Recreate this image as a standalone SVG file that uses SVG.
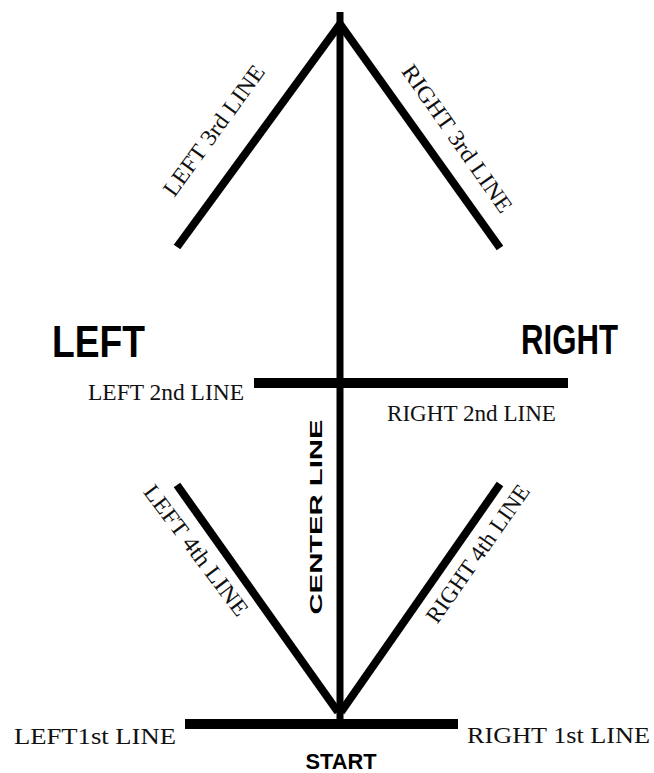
<svg xmlns="http://www.w3.org/2000/svg" width="654" height="773" viewBox="0 0 654 773">
<style>
.ln{stroke:#000;stroke-linecap:butt;fill:none}
.s{font-family:"Liberation Serif","Times New Roman",serif;font-size:23px;fill:#111}
.b{font-family:"Liberation Sans",Arial,sans-serif;font-weight:bold;fill:#000}
</style>
<rect width="654" height="773" fill="#fff"/>
<g id="connectors">
<line class="ln" x1="340" y1="12" x2="340" y2="722" stroke-width="7"/>
<line class="ln" x1="340" y1="24" x2="177" y2="247" stroke-width="8" stroke-linecap="round"/>
<line class="ln" x1="340" y1="24" x2="500" y2="248" stroke-width="8" stroke-linecap="round"/>
<line class="ln" x1="254" y1="383" x2="568" y2="383" stroke-width="10"/>
<line class="ln" x1="177" y1="485" x2="338" y2="712" stroke-width="8" stroke-linecap="round"/>
<line class="ln" x1="500" y1="484" x2="341" y2="712" stroke-width="8" stroke-linecap="round"/>
<line class="ln" x1="185" y1="724" x2="458" y2="724" stroke-width="10"/>
</g>
<g id="left"><text class="b" x="52" y="357" font-size="44" textLength="93" lengthAdjust="spacingAndGlyphs">LEFT</text></g>
<g id="right"><text class="b" x="521" y="354" font-size="43" textLength="97" lengthAdjust="spacingAndGlyphs">RIGHT</text></g>
<g id="left2"><text class="s" x="88" y="400" textLength="156" lengthAdjust="spacingAndGlyphs">LEFT 2nd LINE</text></g>
<g id="right2"><text class="s" x="387" y="421" textLength="169" lengthAdjust="spacingAndGlyphs">RIGHT 2nd LINE</text></g>
<g id="left1"><text class="s" x="14" y="744" textLength="162" lengthAdjust="spacingAndGlyphs">LEFT1st LINE</text></g>
<g id="right1"><text class="s" x="467" y="743" textLength="183" lengthAdjust="spacingAndGlyphs">RIGHT 1st LINE</text></g>
<g id="start"><text class="b" x="341" y="769" font-size="22" text-anchor="middle" textLength="71" lengthAdjust="spacingAndGlyphs">START</text></g>
<g id="left3"><text class="s" transform="translate(220,135) rotate(-54)" x="0" y="0" text-anchor="middle" textLength="156" lengthAdjust="spacingAndGlyphs">LEFT 3rd LINE</text></g>
<g id="right3"><text class="s" transform="translate(451,143) rotate(55)" x="0" y="0" text-anchor="middle" textLength="175" lengthAdjust="spacingAndGlyphs">RIGHT 3rd LINE</text></g>
<g id="left4"><text class="s" transform="translate(190,555) rotate(53)" x="0" y="0" text-anchor="middle" textLength="158" lengthAdjust="spacingAndGlyphs">LEFT 4th LINE</text></g>
<g id="right4"><text class="s" transform="translate(484,558) rotate(-55)" x="0" y="0" text-anchor="middle" textLength="163" lengthAdjust="spacingAndGlyphs">RIGHT 4th LINE</text></g>
<g id="center"><text class="b" transform="translate(322,517) rotate(-90)" x="0" y="0" font-size="17" text-anchor="middle" textLength="195" lengthAdjust="spacingAndGlyphs">CENTER LINE</text></g>
</svg>
